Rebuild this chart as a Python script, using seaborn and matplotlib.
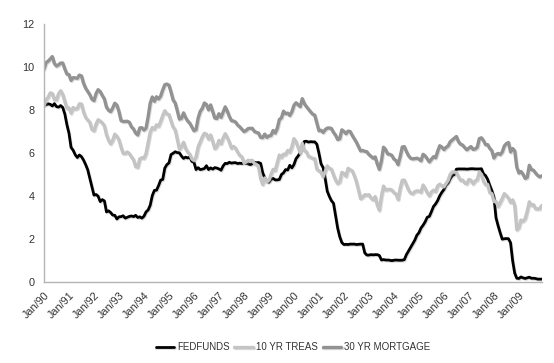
import numpy as np
import pandas as pd
import matplotlib
matplotlib.use("Agg")
import matplotlib.pyplot as plt
import matplotlib.patheffects as pe
import seaborn as sns

sns.set_theme(style="white")
plt.rcParams['font.family'] = ['Liberation Sans', 'DejaVu Sans']

# monthly values, Jan 1990 - Dec 2009
fedfunds = [
  8.23, 8.24, 8.28, 8.26, 8.18, 8.29, 8.15, 8.13, 8.20, 8.11, 7.81, 7.31,
  6.91, 6.25, 6.12, 5.91, 5.78, 5.90, 5.82, 5.66, 5.45, 5.21, 4.81, 4.43,
  4.03, 4.06, 3.98, 3.73, 3.82, 3.76, 3.25, 3.30, 3.22, 3.10, 3.09, 2.92,
  3.02, 3.03, 3.07, 2.96, 3.00, 3.04, 3.06, 3.03, 3.09, 2.99, 3.02, 2.96,
  3.05, 3.25, 3.34, 3.56, 4.01, 4.25, 4.26, 4.47, 4.73, 4.76, 5.29, 5.45,
  5.53, 5.92, 5.98, 6.05, 6.01, 6.00, 5.85, 5.74, 5.80, 5.76, 5.80, 5.60,
  5.56, 5.22, 5.31, 5.22, 5.24, 5.27, 5.40, 5.22, 5.30, 5.24, 5.31, 5.29,
  5.25, 5.19, 5.39, 5.51, 5.50, 5.56, 5.52, 5.54, 5.54, 5.50, 5.52, 5.50,
  5.56, 5.51, 5.49, 5.45, 5.49, 5.56, 5.54, 5.55, 5.51, 5.07, 4.83, 4.68,
  4.63, 4.76, 4.81, 4.74, 4.74, 4.76, 4.99, 5.07, 5.22, 5.20, 5.42, 5.30,
  5.45, 5.73, 5.85, 6.02, 6.27, 6.53, 6.54, 6.50, 6.52, 6.51, 6.51, 6.40,
  5.98, 5.49, 5.31, 4.80, 4.21, 3.97, 3.77, 3.65, 3.07, 2.49, 2.09, 1.82,
  1.73, 1.74, 1.73, 1.75, 1.75, 1.75, 1.73, 1.74, 1.75, 1.75, 1.34, 1.24,
  1.24, 1.26, 1.25, 1.26, 1.26, 1.22, 1.01, 1.03, 1.01, 1.01, 1.00, 0.98,
  1.00, 1.01, 1.00, 1.00, 1.00, 1.03, 1.26, 1.43, 1.61, 1.76, 1.93, 2.16,
  2.28, 2.50, 2.63, 2.79, 3.00, 3.04, 3.26, 3.50, 3.62, 3.78, 4.00, 4.16,
  4.29, 4.49, 4.59, 4.79, 4.94, 4.99, 5.24, 5.25, 5.25, 5.25, 5.25, 5.24,
  5.25, 5.26, 5.26, 5.25, 5.25, 5.25, 5.26, 5.02, 4.94, 4.76, 4.49, 4.24,
  3.94, 2.98, 2.61, 2.28, 1.98, 2.00, 2.01, 2.00, 1.81, 0.97, 0.39, 0.16,
  0.15, 0.22, 0.18, 0.15, 0.18, 0.21, 0.16, 0.16, 0.15, 0.12, 0.12, 0.12,
]

treas10 = [
  8.21, 8.47, 8.59, 8.79, 8.76, 8.48, 8.47, 8.75, 8.89, 8.72, 8.39, 8.08,
  8.09, 7.85, 8.11, 8.04, 8.07, 8.28, 8.27, 7.90, 7.65, 7.53, 7.42, 7.09,
  7.03, 7.34, 7.54, 7.48, 7.39, 7.26, 6.84, 6.59, 6.42, 6.59, 6.87, 6.77,
  6.60, 6.26, 5.98, 5.97, 6.04, 5.96, 5.81, 5.68, 5.36, 5.33, 5.72, 5.77,
  5.75, 5.97, 6.48, 6.97, 7.18, 7.10, 7.30, 7.24, 7.46, 7.74, 7.96, 7.81,
  7.78, 7.47, 7.20, 7.06, 6.63, 6.17, 6.28, 6.49, 6.20, 6.04, 5.93, 5.71,
  5.65, 5.81, 6.27, 6.51, 6.74, 6.91, 6.87, 6.64, 6.83, 6.53, 6.20, 6.30,
  6.58, 6.42, 6.69, 6.89, 6.71, 6.49, 6.22, 6.30, 6.21, 6.03, 5.88, 5.81,
  5.54, 5.57, 5.65, 5.64, 5.65, 5.50, 5.46, 5.34, 4.81, 4.53, 4.83, 4.65,
  4.72, 5.00, 5.23, 5.18, 5.54, 5.90, 5.79, 5.94, 5.92, 6.11, 6.03, 6.28,
  6.66, 6.52, 6.26, 5.99, 6.44, 6.10, 6.05, 5.83, 5.80, 5.74, 5.72, 5.24,
  5.16, 5.10, 4.89, 5.14, 5.39, 5.28, 5.24, 4.97, 4.73, 4.57, 4.65, 5.09,
  5.04, 4.91, 5.28, 5.21, 5.16, 4.93, 4.65, 4.26, 3.87, 3.94, 4.05, 4.03,
  4.05, 3.90, 3.81, 3.96, 3.57, 3.33, 3.98, 4.45, 4.27, 4.29, 4.30, 4.27,
  4.15, 4.08, 3.83, 4.35, 4.72, 4.73, 4.50, 4.28, 4.13, 4.10, 4.19, 4.23,
  4.22, 4.17, 4.50, 4.34, 4.14, 4.00, 4.18, 4.26, 4.20, 4.46, 4.54, 4.47,
  4.42, 4.57, 4.72, 4.99, 5.11, 5.11, 5.09, 4.88, 4.72, 4.73, 4.60, 4.56,
  4.76, 4.72, 4.56, 4.69, 4.75, 5.10, 5.00, 4.67, 4.52, 4.53, 4.15, 4.10,
  3.74, 3.74, 3.51, 3.68, 3.88, 4.10, 4.01, 3.89, 3.69, 3.81, 3.53, 2.42,
  2.52, 2.87, 2.82, 2.93, 3.29, 3.72, 3.56, 3.59, 3.40, 3.39, 3.40, 3.55,
]

mortgage30 = [
  9.90, 10.20, 10.27, 10.37, 10.48, 10.16, 10.04, 10.10, 10.18, 10.18, 9.91, 9.67,
  9.64, 9.37, 9.50, 9.49, 9.47, 9.62, 9.58, 9.24, 9.01, 8.86, 8.71, 8.50,
  8.43, 8.76, 8.94, 8.85, 8.67, 8.51, 8.13, 7.98, 7.92, 8.09, 8.31, 8.22,
  7.92, 7.50, 7.46, 7.46, 7.47, 7.42, 7.21, 7.11, 6.92, 6.83, 7.16, 7.17,
  7.06, 7.15, 7.68, 8.32, 8.60, 8.40, 8.61, 8.51, 8.64, 8.93, 9.17, 9.20,
  9.15, 8.83, 8.46, 8.32, 7.96, 7.57, 7.61, 7.86, 7.64, 7.48, 7.38, 7.20,
  7.03, 7.08, 7.62, 7.93, 8.07, 8.32, 8.25, 8.00, 8.23, 7.92, 7.62, 7.60,
  7.82, 7.65, 7.90, 8.14, 7.94, 7.69, 7.50, 7.48, 7.43, 7.29, 7.21, 7.10,
  6.99, 7.04, 7.13, 7.14, 7.14, 7.00, 6.95, 6.92, 6.72, 6.71, 6.87, 6.72,
  6.79, 6.81, 7.04, 6.92, 7.15, 7.55, 7.63, 7.94, 7.82, 7.85, 7.74, 7.91,
  8.21, 8.33, 8.24, 8.15, 8.52, 8.29, 8.15, 8.03, 7.91, 7.80, 7.75, 7.38,
  7.03, 7.05, 6.95, 7.08, 7.15, 7.16, 7.13, 6.95, 6.82, 6.62, 6.66, 7.07,
  7.00, 6.89, 7.01, 6.99, 6.81, 6.65, 6.49, 6.29, 6.09, 6.11, 6.07, 6.05,
  5.92, 5.84, 5.75, 5.81, 5.48, 5.23, 5.63, 6.26, 6.15, 5.95, 5.93, 5.88,
  5.71, 5.64, 5.45, 5.83, 6.27, 6.29, 6.06, 5.87, 5.75, 5.72, 5.73, 5.75,
  5.71, 5.63, 5.93, 5.86, 5.72, 5.58, 5.70, 5.82, 5.77, 6.07, 6.33, 6.27,
  6.15, 6.25, 6.32, 6.51, 6.60, 6.68, 6.76, 6.52, 6.40, 6.36, 6.24, 6.14,
  6.22, 6.29, 6.16, 6.18, 6.26, 6.66, 6.70, 6.57, 6.38, 6.38, 6.21, 6.10,
  5.76, 5.92, 5.97, 5.92, 6.04, 6.32, 6.43, 6.48, 6.04, 6.20, 6.09, 5.33,
  5.06, 5.13, 5.00, 4.81, 4.86, 5.42, 5.22, 5.19, 5.06, 4.95, 4.88, 4.93,
]

years = list(range(1990, 2010))
tick_labels = ["Jan/%02d" % (y % 100) for y in years]
series_names = ["FEDFUNDS", "10 YR TREAS", "30 YR MORTGAGE"]

df = pd.DataFrame({
  "month": np.arange(len(fedfunds)),
  "FEDFUNDS": fedfunds,
  "10 YR TREAS": treas10,
  "30 YR MORTGAGE": mortgage30,
})

fig = plt.figure(figsize=(5.54, 3.63), dpi=100)
ax = fig.add_axes([0.0794, 0.224, 0.8986, 0.71])

colors = {"FEDFUNDS": "#000000", "10 YR TREAS": "#c4c4c4", "30 YR MORTGAGE": "#929292"}
widths = {"FEDFUNDS": 2.0, "10 YR TREAS": 2.4, "30 YR MORTGAGE": 2.4}
shadow = [pe.SimpleLineShadow(offset=(0.6, -0.8), shadow_color="#999999", alpha=0.35), pe.Normal()]

for name in series_names:
  sns.lineplot(data=df, x="month", y=name, ax=ax, color=colors[name],
               linewidth=widths[name], label=name, path_effects=shadow)

ax.set_xlim(0, len(fedfunds) - 1)
ax.set_ylim(0, 12)
ax.set_yticks(range(0, 13, 2))
ax.set_xticks(range(0, len(fedfunds), 12))
ax.set_xticklabels(tick_labels, rotation=45, ha="right", rotation_mode="anchor")
ax.set_xlabel("")
ax.set_ylabel("")

for side in ["top", "right"]:
  ax.spines[side].set_visible(False)
for side in ["left", "bottom"]:
  ax.spines[side].set_color("#b4b4b4")
  ax.spines[side].set_linewidth(1.0)

ax.tick_params(axis="both", direction="out", length=4, width=0.8, color="#b4b4b4",
               labelsize=7.8, labelcolor="#333333", pad=3)
ax.tick_params(axis="x", pad=2)

leg = ax.legend(loc="upper center", bbox_to_anchor=(0.5, -0.2), ncol=3, frameon=False,
                fontsize=7, handlelength=1.9, columnspacing=0.5, handletextpad=0.3)
for t in leg.get_texts():
  t.set_color("#333333")

fig.savefig("out.png", dpi=100)
